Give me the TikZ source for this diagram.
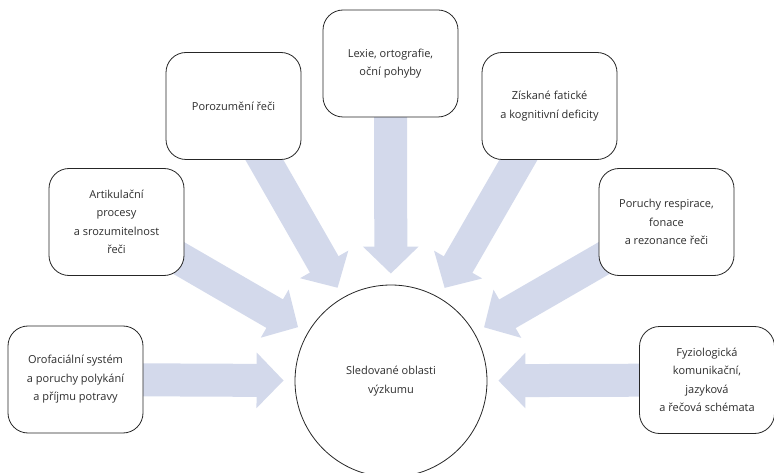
\documentclass[tikz,border=0pt]{standalone}
\usepackage{fontspec}
\setmainfont{Open Sans}
\usetikzlibrary{arrows.meta}
\definecolor{sipkabarva}{RGB}{211,217,235}
\definecolor{textseda}{RGB}{45,45,45}
\pgfdeclarelayer{background}
\pgfsetlayers{background,main}

\begin{document}
\begin{tikzpicture}[x=1pt,y=-1pt,font=\fontsize{11}{18.5}\selectfont]
    \tikzset{
        oblast/.style={draw=black!85,line width=0.8pt,fill=white,rounded corners=20pt,
            minimum width=135pt,minimum height=107pt,align=center,text=textseda},
        sipka/.style={line width=33pt,draw=sipkabarva,
            -{Triangle[length=27pt,width=54pt]},shorten >=11pt}
    }
    \useasboundingbox (0,0) rectangle (774,473);

    \node[draw=black!85,line width=0.8pt,circle,minimum size=192pt,align=center,
        text=textseda] (stred) at (391,381) {Sledované oblasti\\výzkumu};

    \node[oblast] (oro) at (75.5,379.5)
        {Orofaciální systém\\a poruchy polykání\\a příjmu potravy};
    \node[oblast] (artik) at (116.5,222)
        {Artikulační\\procesy\\a srozumitelnost\\řeči};
    \node[oblast] (poroz) at (233.5,106) {Porozumění řeči};
    \node[oblast] (lexie) at (390.5,63.5)
        {Lexie, ortografie,\\oční pohyby};
    \node[oblast] (ziskane) at (549.5,106)
        {Získané fatické\\a kognitivní deficity};
    \node[oblast] (resp) at (666.5,222)
        {Poruchy respirace,\\fonace\\a rezonance řeči};
    \node[oblast] (fyzio) at (707,380)
        {Fyziologická\\komunikační,\\jazyková\\a řečová schémata};

    \begin{pgfonlayer}{background}
        \foreach \b in {oro,artik,poroz,lexie,ziskane,resp,fyzio}
            \draw[sipka] (\b.center) -- (stred);
    \end{pgfonlayer}
\end{tikzpicture}
\end{document}
